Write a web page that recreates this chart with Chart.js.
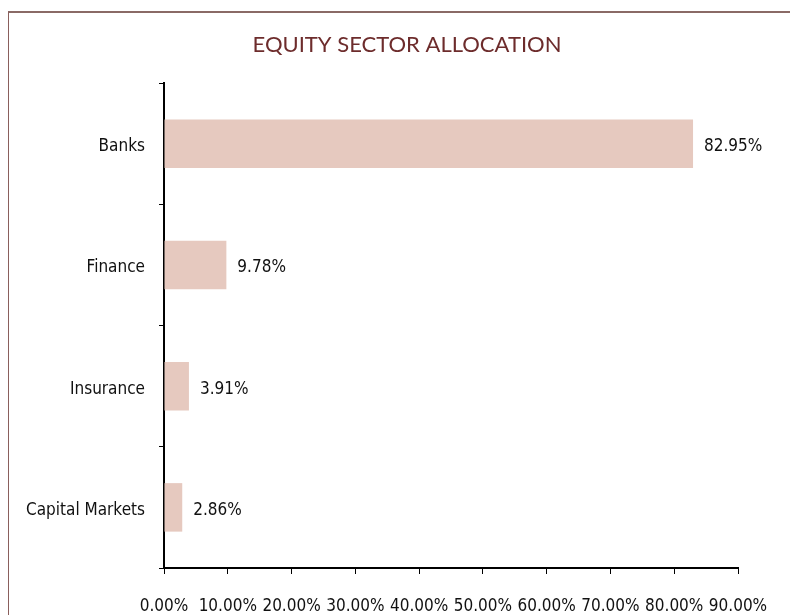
<!DOCTYPE html>
<html>
<head>
<meta charset="utf-8">
<script src="https://cdn.jsdelivr.net/npm/chart.js@4"></script>
<style>
  html, body { margin: 0; padding: 0; background: #fff; }
  #wrap { position: relative; width: 790px; height: 615px; overflow: hidden; }
  #frame { position: absolute; left: 8px; top: 11px; width: 900px; height: 700px;
           border-left: 1.5px solid #8a5f5c; border-top: 2px solid #8a6a66; }
  #chart { position: absolute; left: 0; top: 0; }
</style>
</head>
<body>
<div id="wrap">
  <div id="frame"></div>
  <canvas id="chart" width="790" height="615"></canvas>
</div>
<script>
const sectors = ['Banks', 'Finance', 'Insurance', 'Capital Markets'];
const allocation = [82.95, 9.78, 3.91, 2.86];
const chartTitle = 'EQUITY SECTOR ALLOCATION';
const axisMax = 90;
const tickStep = 10;

const labelFont = "'Liberation Sans Narrow', 'DejaVu Sans Condensed', sans-serif";

// title over the middle of the frame, value labels at the end of each bar
const extras = {
    id: 'extras',
    afterDraw(chart) {
        const ctx = chart.ctx;
        ctx.save();
        ctx.font = '22px Lato, "Open Sans", sans-serif';
        ctx.fillStyle = '#6d2c2c';
        ctx.textAlign = 'center';
        ctx.textBaseline = 'middle';
        ctx.fillText(chartTitle, 407, 45);

        ctx.font = '17px ' + labelFont;
        ctx.fillStyle = '#111';
        ctx.textAlign = 'left';
        chart.getDatasetMeta(0).data.forEach(function (bar, i) {
            ctx.fillText(allocation[i].toFixed(2) + '%', bar.x + 11, bar.y + 3);
        });
        ctx.restore();
    }
};

document.addEventListener('DOMContentLoaded', function () {
    const ctx = document.getElementById('chart').getContext('2d');
    new Chart(ctx, {
        type: 'bar',
        data: {
            labels: sectors,
            datasets: [{
                data: allocation,
                backgroundColor: '#e6c9bf',
                borderWidth: 0,
                categoryPercentage: 1,
                barPercentage: 0.4
            }]
        },
        options: {
            indexAxis: 'y',
            responsive: false,
            animation: false,
            layout: { padding: { top: 83, right: 52, bottom: 0 } },
            plugins: {
                legend: { display: false },
                tooltip: { enabled: false },
                title: { display: false }
            },
            scales: {
                x: {
                    min: 0,
                    max: axisMax,
                    afterFit: function (s) { s.height = 47; },
                    border: { color: '#000', width: 2 },
                    grid: { drawOnChartArea: false, color: '#000', tickLength: 6, lineWidth: 1 },
                    ticks: {
                        stepSize: tickStep,
                        color: '#111',
                        padding: 22,
                        maxRotation: 0,
                        font: { family: labelFont, size: 17 },
                        callback: function (v) { return v.toFixed(2) + '%'; }
                    }
                },
                y: {
                    offset: true,
                    afterFit: function (s) { s.width = 164; },
                    border: { color: '#000', width: 2 },
                    grid: { offset: true, drawOnChartArea: false, color: '#000', tickLength: 5, lineWidth: 1 },
                    ticks: {
                        color: '#111',
                        padding: 14,
                        labelOffset: 3,
                        font: { family: labelFont, size: 17 }
                    }
                }
            }
        },
        plugins: [extras]
    });
});
</script>
</body>
</html>
